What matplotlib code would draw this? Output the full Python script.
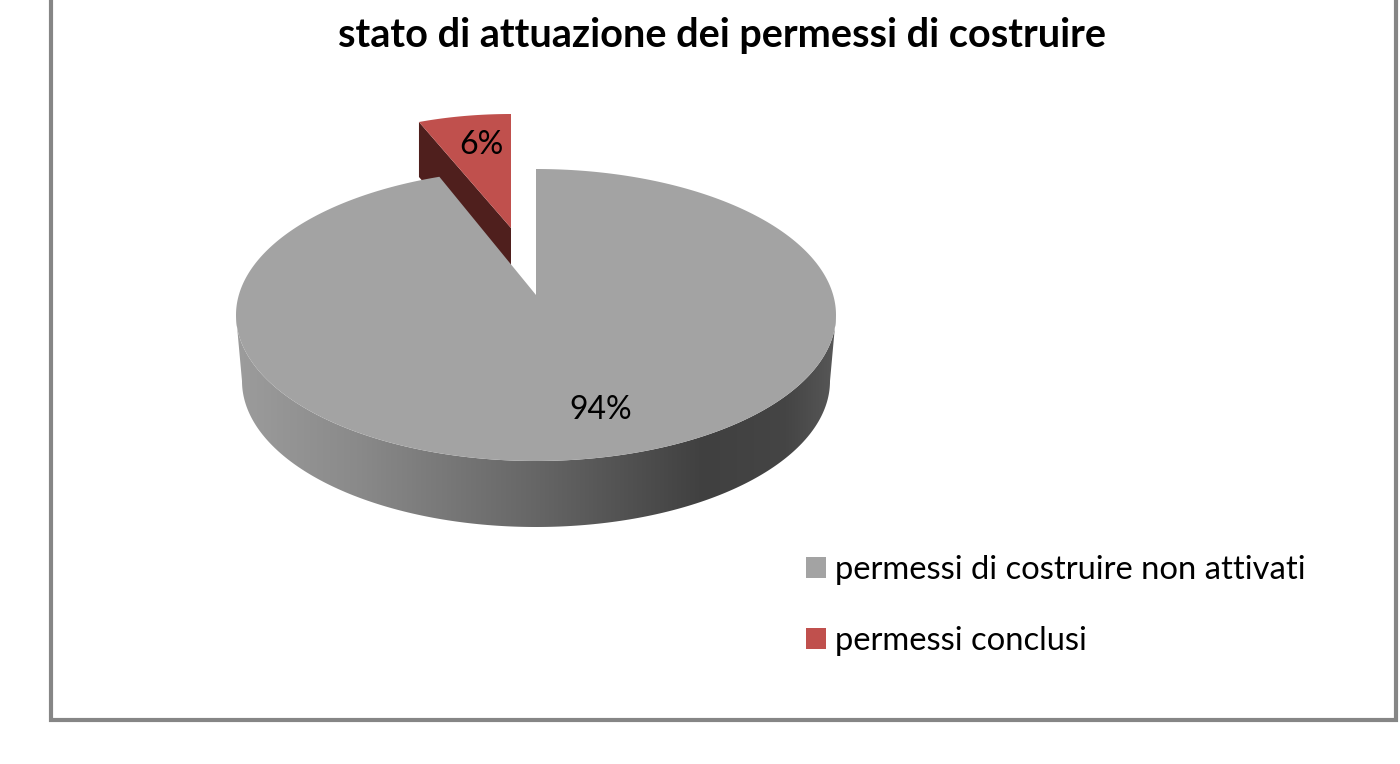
import numpy as np
import matplotlib
matplotlib.use("Agg")
import matplotlib.pyplot as plt
from matplotlib.patches import Polygon, Rectangle, Patch
from matplotlib.colors import LinearSegmentedColormap

title = "stato di attuazione dei permessi di costruire"
categories = ["permessi di costruire non attivati", "permessi conclusi"]
values = [94, 6]
labels = ["94%", "6%"]

GRAY, RED, DARKRED = "#A3A3A3", "#C0504D", "#4F1F1D"
plt.rcParams["font.family"] = ["Lato", "DejaVu Sans"]

fig = plt.figure(figsize=(14, 7.64), dpi=100)
ax = fig.add_axes([0, 0, 1, 1])
ax.set_xlim(0, 1400)
ax.set_ylim(764, 0)
ax.axis("off")

cx, cy, rx, ry, depth = 536, 315, 300, 146, 66
low_rx = 294        # far rim of the wall is narrower in perspective
apex_y = 295
persp = 0.87        # perspective narrowing of the slice at the back

fracs = np.array(values) / sum(values)
red_sweep = 2 * np.pi * fracs[1] * persp
gray_sweep = 2 * np.pi - red_sweep

def ell(t, x0, y0, a, b):
    return np.column_stack([x0 + a * np.sin(t), y0 - b * np.cos(t)])

# exploded red slice
r_ax, r_ay, r_a, r_b, r_d = 511, 228, 250, 114, 55
tr = np.linspace(-2 * np.pi * fracs[1], 0, 40)
rim = ell(tr, r_ax, r_ay, r_a, r_b)
ax.add_patch(Polygon(np.vstack([rim[0], rim[0] + [0, r_d], [r_ax, r_ay + r_d], [r_ax, r_ay]]),
                     closed=True, fc=DARKRED, ec="none", zorder=2))
ax.add_patch(Polygon(np.vstack([[r_ax, r_ay], rim]), closed=True, fc=RED, ec="none", zorder=3))

# gray slice side wall with horizontal gradient
t = np.linspace(np.pi / 2, 3 * np.pi / 2, 200)
front = ell(t, cx, cy, rx, ry)
back = ell(t, cx, cy + depth, low_rx, ry)
wall = Polygon(np.vstack([front, back[::-1]]), closed=True,
               fc="none", ec="none", transform=ax.transData)
ax.add_patch(wall)
cmap = LinearSegmentedColormap.from_list(
    "wall", [(0, "#9C9C9C"), (0.2, "#8A8A8A"), (0.5, "#666666"),
             (0.78, "#404040"), (0.92, "#454545"), (1, "#575757")])
im = ax.imshow(np.linspace(0, 1, 256)[None, :], extent=[cx - rx, cx + rx, cy + ry + depth, cy - ry],
               cmap=cmap, aspect="auto", zorder=4)
im.set_clip_path(wall)
ax.set_xlim(0, 1400)
ax.set_ylim(764, 0)

# gray top face
tg = np.linspace(0, gray_sweep, 400)
ax.add_patch(Polygon(np.vstack([[cx, apex_y], ell(tg, cx, cy, rx, ry)]), closed=True,
                     fc=GRAY, ec="none", zorder=5))

# data labels
ax.text(601, 410, labels[0], fontsize=23, ha="center", va="center", color="black", zorder=6)
ax.text(481, 145, labels[1], fontsize=23, ha="center", va="center", color="black", zorder=6)

# title
ax.text(722, 35, title, fontsize=28.5, fontweight="bold", ha="center", va="center", color="black")

# legend
handles = [Patch(fc=GRAY, ec="none"), Patch(fc=RED, ec="none")]
ax.legend(handles, categories, loc="upper left", bbox_to_anchor=(806 / 1400, 1 - 555 / 764),
          bbox_transform=ax.transAxes, frameon=False, fontsize=23.6,
          handlelength=0.61, handleheight=0.61, handletextpad=0.27, labelspacing=1.25,
          borderpad=0, borderaxespad=0)

# frame
ax.add_patch(Rectangle((51, -10), 1345, 730, fc="none", ec="#868686", lw=3, zorder=7))

fig.savefig("out.png", dpi=100)
